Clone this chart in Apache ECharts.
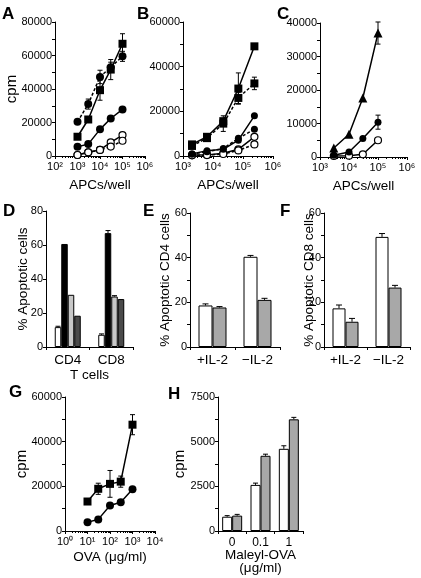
<!DOCTYPE html>
<html><head><meta charset="utf-8">
<script src="https://cdn.jsdelivr.net/npm/echarts@6/dist/echarts.min.js"></script>
<style>html,body{margin:0;padding:0;background:#fff}#c{width:421px;height:578px}</style>
</head><body><div id="c"></div>
<script>
// ---------- DATA ----------
// Panel A (APCs/well vs cpm)
const aX = [1000, 3000, 10000, 30000, 100000];
const aSquare = [11500, 21800, 39300, 51600, 67000];
const aSquareErr = [0, 0, 6000, 6000, 6000];
const aCircleDash = [20400, 31000, 47200, 53000, 59500];
const aCircleDashErr = [0, 3000, 4000, 3000, 3000];
const aCircle = [5500, 7100, 15900, 22400, 27800];
const aOpen = [600, 2200, 3600, 8100, 12500];
const aOpenDash = [600, 2200, 3600, 5600, 9100];
// Panel B
const bX = [2000, 6300, 22000, 70000, 240000];
const bSquare = [5200, 8600, 15600, 30200, 49100];
const bSquareErr = [0, 0, 0, 7000, 0];
const bSquareDash = [4500, 8000, 14500, 26000, 32500];
const bSquareDashErr = [0, 0, 3500, 2500, 2800];
const bCircle = [900, 2400, 3000, 7100, 18000];
const bCircleDash = [900, 1900, 3400, 7900, 12000];
const bOpen = [400, 500, 1200, 3000, 8600];
const bOpenDash = [300, 400, 900, 2500, 5200];
// Panel C
const cX = [3000, 10000, 30000, 100000];
const cTriangle = [2700, 6800, 17600, 37000];
const cTriangleErr = [0, 0, 0, 3300];
const cCircle = [500, 1500, 5500, 10400];
const cCircleErr = [0, 0, 0, 2100];
const cOpen = [300, 400, 800, 5000];
// Panel D
const dCats = ['CD4', 'CD8'];
const dWhite = [11.7, 7.2];
const dWhiteErr = [0.5, 0.5];
const dBlack = [60.6, 67.0];
const dBlackErr = [0, 1.5];
const dLight = [30.7, 29.7];
const dLightErr = [0, 0.5];
const dDark = [18.4, 28.2];
const dDarkErr = [0, 0];
// Panel E
const eCats = ['+IL-2', '\u2212IL-2'];
const eWhite = [18.6, 40.4];
const eWhiteErr = [0.7, 0.6];
const eGrey = [17.7, 21.1];
const eGreyErr = [0.4, 0.7];
// Panel F
const fCats = ['+IL-2', '\u2212IL-2'];
const fWhite = [17.3, 49.3];
const fWhiteErr = [1.5, 1.5];
const fGrey = [11.3, 26.6];
const fGreyErr = [1.5, 1.0];
// Panel G (OVA ug/ml vs cpm)
const gX = [10, 30, 100, 300, 1000];
const gSquare = [13200, 18900, 21100, 22100, 47600];
const gSquareErr = [0, 2500, 6000, 2500, 4500];
const gCircle = [3900, 5200, 11400, 12900, 18700];
// Panel H
const hCats = ['0', '0.1', '1'];
const hWhite = [800, 2580, 4600];
const hWhiteErr = [60, 100, 170];
const hGrey = [860, 4210, 6250];
const hGreyErr = [70, 90, 110];

// ---------- HELPERS ----------
const FONT = 'Liberation Sans';
const BLK = '#000';
const sup = ['\u2070','\u00b9','\u00b2','\u00b3','\u2074','\u2075','\u2076'];
const pts = (xs, ys) => xs.map((x, i) => [x, ys[i]]);
const ln = (x1, y1, x2, y2) => ({type: 'line', shape: {x1, y1, x2, y2}, style: {stroke: BLK, lineWidth: 1}});
const nameStyle = size => ({color: BLK, fontSize: size, fontFamily: FONT});

function logX(gi, min, max, name, gap) {
  return {type: 'log', gridIndex: gi, logBase: 10, min, max,
    name, nameLocation: 'middle', nameGap: gap, nameTextStyle: nameStyle(13.5), nameMoveOverlap: false,
    axisLine: {show: true, onZero: false, lineStyle: {color: BLK, width: 1}},
    axisTick: {length: 3, lineStyle: {color: BLK}},
    minorTick: {show: true, splitNumber: 9, length: 2, lineStyle: {color: BLK}},
    axisLabel: {color: BLK, fontSize: 11, fontFamily: FONT, margin: 5, showMinLabel: true, showMaxLabel: true,
      formatter: v => '10' + sup[Math.round(Math.log10(v))]},
    splitLine: {show: false}, minorSplitLine: {show: false}};
}
function valY(gi, max, interval, minorSplit, name, gap, size) {
  return {type: 'value', gridIndex: gi, min: 0, max, interval,
    name, nameLocation: 'middle', nameGap: gap, nameRotate: 90, nameTextStyle: nameStyle(size), nameMoveOverlap: false,
    axisLine: {show: true, onZero: false, lineStyle: {color: BLK, width: 1}},
    axisTick: {show: true, length: 3, lineStyle: {color: BLK}},
    minorTick: {show: minorSplit > 0, splitNumber: minorSplit || 2, length: 3, lineStyle: {color: BLK}},
    axisLabel: {color: BLK, fontSize: 11, fontFamily: FONT, margin: 3, formatter: v => String(v)},
    splitLine: {show: false}, minorSplitLine: {show: false}};
}
function catX(gi, cats, fs, name, gap) {
  return {type: 'category', gridIndex: gi, data: cats,
    name, nameLocation: 'middle', nameGap: gap, nameTextStyle: Object.assign(nameStyle(13.5), {lineHeight: 13}), nameMoveOverlap: false,
    axisLine: {show: true, onZero: false, lineStyle: {color: BLK, width: 1}},
    axisTick: {show: true, length: 3, lineStyle: {color: BLK}},
    axisLabel: {color: BLK, fontSize: fs, fontFamily: FONT, margin: 6},
    splitLine: {show: false}};
}
function lineS(gi, xs, ys, symbol, size, dashed, open) {
  return {type: 'line', xAxisIndex: gi, yAxisIndex: gi, data: pts(xs, ys),
    symbol, symbolSize: size, showSymbol: true, z: 3, animation: false,
    lineStyle: {color: BLK, width: 1.5, type: dashed ? [3, 2] : 'solid'},
    itemStyle: {color: open ? '#fff' : BLK, borderColor: BLK, borderWidth: open ? 1.2 : 0}};
}
function errS(gi, xs, ys, es, cap) {
  return {type: 'custom', xAxisIndex: gi, yAxisIndex: gi, z: 2, silent: true, animation: false,
    data: xs.map((x, i) => [x, ys[i], es[i]]),
    renderItem: (p, api) => {
      const x = api.value(0), y = api.value(1), e = api.value(2);
      if (!e) return {type: 'group', children: []};
      const t = api.coord([x, y + e]), b = api.coord([x, y - e]);
      return {type: 'group', children: [ln(t[0], t[1], b[0], b[1]),
        ln(t[0] - cap, t[1], t[0] + cap, t[1]), ln(b[0] - cap, b[1], b[0] + cap, b[1])]};
    }};
}
function barS(gi, vals, color, w) {
  return {type: 'bar', xAxisIndex: gi, yAxisIndex: gi, data: vals, barWidth: w, barGap: '0%',
    animation: false, itemStyle: {color, borderColor: BLK, borderWidth: 1}};
}
function barErrS(gi, vals, errs, off, cap) {
  return {type: 'custom', xAxisIndex: gi, yAxisIndex: gi, z: 5, silent: true, animation: false,
    data: vals.map((v, i) => [i, v, errs[i]]),
    renderItem: (p, api) => {
      const i = api.value(0), v = api.value(1), e = api.value(2);
      if (!e) return {type: 'group', children: []};
      const c = api.coord([i, v]), t = api.coord([i, v + e]);
      const x = c[0] + off;
      return {type: 'group', children: [ln(x, c[1], x, t[1]), ln(x - cap, t[1], x + cap, t[1])]};
    }};
}
const letter = (text, left, top) => ({text, left, top, padding: 0,
  textStyle: {color: BLK, fontSize: 17, fontWeight: 'bold', fontFamily: FONT}});

// ---------- OPTION ----------
const grids = [
  {left: 55, top: 22, width: 90, height: 134},   // A
  {left: 183, top: 22, width: 90, height: 134},  // B
  {left: 320, top: 23, width: 87, height: 134},  // C
  {left: 46, top: 211, width: 87, height: 136},  // D
  {left: 190, top: 213, width: 90, height: 134}, // E
  {left: 324, top: 213, width: 86, height: 134}, // F
  {left: 65, top: 397, width: 90, height: 134},  // G
  {left: 218, top: 397, width: 85, height: 134}  // H
];
const xAxes = [
  logX(0, 100, 1e6, 'APCs/well', 22), logX(1, 1000, 1e6, 'APCs/well', 22), logX(2, 1000, 1e6, 'APCs/well', 22),
  catX(3, dCats, 13.5, 'T cells', 22), catX(4, eCats, 13.5, '', 10), catX(5, fCats, 13.5, '', 10),
  logX(6, 1, 1e4, 'OVA (\u03bcg/ml)', 19), catX(7, hCats, 12, 'Maleyl-OVA\n(\u03bcg/ml)', 18)
];
const yAxes = [
  valY(0, 80000, 20000, 2, 'cpm', 36, 15), valY(1, 60000, 20000, 2, '', 10, 13), valY(2, 40000, 10000, 2, '', 10, 13),
  valY(3, 80, 20, 0, '% Apoptotic cells', 16, 13.5), valY(4, 60, 20, 2, '% Apoptotic CD4 cells', 18, 13.5),
  valY(5, 60, 20, 2, '% Apoptotic CD8 cells', 8, 13.5),
  valY(6, 60000, 20000, 2, 'cpm', 36, 15), valY(7, 7500, 2500, 2, 'cpm', 31, 15)
];
const series = [
  errS(0, aX, aSquare, aSquareErr, 2.5), errS(0, aX, aCircleDash, aCircleDashErr, 2.5),
  lineS(0, aX, aOpen, 'circle', 7, false, true), lineS(0, aX, aOpenDash, 'circle', 7, true, true),
  lineS(0, aX, aCircle, 'circle', 8, false, false),
  lineS(0, aX, aCircleDash, 'circle', 8, true, false),
  lineS(0, aX, aSquare, 'rect', 8, false, false),
  errS(1, bX, bSquare, bSquareErr, 2.5), errS(1, bX, bSquareDash, bSquareDashErr, 2.5),
  lineS(1, bX, bOpen, 'circle', 7, false, true), lineS(1, bX, bOpenDash, 'circle', 7, true, true),
  lineS(1, bX, bCircle, 'circle', 7, false, false), lineS(1, bX, bCircleDash, 'circle', 7, true, false),
  lineS(1, bX, bSquareDash, 'rect', 8, true, false), lineS(1, bX, bSquare, 'rect', 8, false, false),
  errS(2, cX, cTriangle, cTriangleErr, 2.5), errS(2, cX, cCircle, cCircleErr, 2.5),
  lineS(2, cX, cOpen, 'circle', 7, false, true), lineS(2, cX, cCircle, 'circle', 7, false, false),
  lineS(2, cX, cTriangle, 'triangle', 9, false, false),
  barS(3, dWhite, '#fff', 6.5), barS(3, dBlack, '#000', 6.5), barS(3, dLight, '#c8c8c8', 6.5), barS(3, dDark, '#4a4a4a', 6.5),
  barErrS(3, dWhite, dWhiteErr, -9.75, 2.5), barErrS(3, dBlack, dBlackErr, -3.25, 2.5),
  barErrS(3, dLight, dLightErr, 3.25, 2.5), barErrS(3, dDark, dDarkErr, 9.75, 2.5),
  barS(4, eWhite, '#fff', 14), barS(4, eGrey, '#a8a8a8', 14),
  barErrS(4, eWhite, eWhiteErr, -7, 3), barErrS(4, eGrey, eGreyErr, 7, 3),
  barS(5, fWhite, '#fff', 13), barS(5, fGrey, '#a8a8a8', 13),
  barErrS(5, fWhite, fWhiteErr, -6.5, 3), barErrS(5, fGrey, fGreyErr, 6.5, 3),
  errS(6, gX, gSquare, gSquareErr, 2.5),
  lineS(6, gX, gCircle, 'circle', 8, false, false), lineS(6, gX, gSquare, 'rect', 8, false, false),
  barS(7, hWhite, '#fff', 10), barS(7, hGrey, '#a8a8a8', 10),
  barErrS(7, hWhite, hWhiteErr, -5, 2.5), barErrS(7, hGrey, hGreyErr, 5, 2.5)
];
const titles = [
  letter('A', 2, 6), letter('B', 137, 6), letter('C', 277, 6),
  letter('D', 3, 203), letter('E', 143, 203), letter('F', 280, 203),
  letter('G', 9, 384), letter('H', 168, 386)
];
const chart = echarts.init(document.getElementById('c'));
chart.setOption({animation: false, title: titles, grid: grids, xAxis: xAxes, yAxis: yAxes, series: series});
</script></body></html>
